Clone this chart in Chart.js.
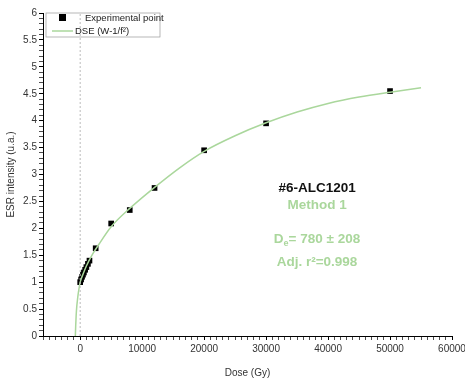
<!DOCTYPE html>
<html>
<head>
<meta charset="utf-8">
<script src="https://cdn.jsdelivr.net/npm/chart.js@4"></script>
<style>
  html, body { margin: 0; padding: 0; background: #fff; }
  #wrap { width: 465px; height: 383px; }
</style>
</head>
<body>
<div id="wrap"><canvas id="chart" width="465" height="383"></canvas></div>
<script>
// experimental points
const doses = [0, 150, 300, 450, 600, 800, 1000, 1250, 1500, 2500, 5000, 8000, 12000, 20000, 30000, 50000];
const intensities = [1.0, 1.05, 1.1, 1.14, 1.18, 1.23, 1.28, 1.34, 1.4, 1.63, 2.09, 2.34, 2.75, 3.45, 3.95, 4.55];

// fitted DSE curve
const fitDoses = [-780, -720, -650, -550, -450, -300, -150, 0, 500, 1000, 2000, 3000, 5000, 8000, 12000, 16000, 20000, 25000, 30000, 35000, 40000, 45000, 50000, 55000];
const fitValues = [0.0, 0.2, 0.38, 0.55, 0.66, 0.8, 0.91, 1.0, 1.16, 1.3, 1.52, 1.7, 2.03, 2.37, 2.76, 3.12, 3.43, 3.72, 3.96, 4.16, 4.32, 4.44, 4.53, 4.61];

const xLabels = [0, 10000, 20000, 30000, 40000, 50000, 60000];
const yLabels = [0, 0.5, 1, 1.5, 2, 2.5, 3, 3.5, 4, 4.5, 5, 5.5, 6];

const green = '#aad79c';
const font = 'Liberation Sans, Arial, sans-serif';

const pts = doses.map((d, i) => ({ x: d, y: intensities[i] }));
const fit = fitDoses.map((d, i) => ({ x: d, y: fitValues[i] }));

// legend + annotation text drawn on the canvas
const overlay = {
  id: 'overlay',
  afterDatasetsDraw(chart) {
    const ctx = chart.ctx;
    const a = chart.chartArea;
    ctx.save();
    // legend box
    const lx = a.left + 3, ly = a.top;
    ctx.strokeStyle = '#999';
    ctx.lineWidth = 0.7;
    ctx.strokeRect(lx, ly, 114, 24);
    ctx.fillStyle = '#000';
    ctx.fillRect(lx + 13, ly + 1, 7, 7);
    ctx.font = '9.5px ' + font;
    ctx.textBaseline = 'middle';
    ctx.fillStyle = '#222';
    ctx.fillText('Experimental point', lx + 39, ly + 5);
    ctx.strokeStyle = green;
    ctx.lineWidth = 1.5;
    ctx.beginPath();
    ctx.moveTo(lx + 6, ly + 18);
    ctx.lineTo(lx + 27, ly + 18);
    ctx.stroke();
    ctx.fillText('DSE (W-1/f\u00b2)', lx + 29, ly + 18);

    // annotation
    const cx = a.left + (a.right - a.left) * 0.67;
    const big = 'bold 13.5px ' + font, small = 'bold 9px ' + font;
    ctx.textAlign = 'center';
    ctx.font = big;
    ctx.fillStyle = '#111';
    ctx.fillText('#6-ALC1201', cx, a.top + 175);
    ctx.fillStyle = green;
    ctx.fillText('Method 1', cx, a.top + 192);
    // D_e line with subscript
    ctx.textAlign = 'left';
    const p1 = 'D', p2 = 'e', p3 = '= 780 \u00b1 208';
    ctx.font = big;
    const w1 = ctx.measureText(p1).width, w3 = ctx.measureText(p3).width;
    ctx.font = small;
    const w2 = ctx.measureText(p2).width;
    const x0 = cx - (w1 + w2 + w3) / 2;
    const yD = a.top + 226;
    ctx.font = big;
    ctx.fillText(p1, x0, yD);
    ctx.font = small;
    ctx.fillText(p2, x0 + w1, yD + 5);
    ctx.font = big;
    ctx.fillText(p3, x0 + w1 + w2, yD);
    ctx.textAlign = 'center';
    ctx.fillText('Adj. r\u00b2=0.998', cx, a.top + 249);
    ctx.restore();
  }
};

new Chart(document.getElementById('chart').getContext('2d'), {
  type: 'scatter',
  data: {
    datasets: [
      {
        label: 'zero',
        data: [{ x: 0, y: 0 }, { x: 0, y: 6 }],
        showLine: true,
        borderColor: '#bbb',
        borderWidth: 1,
        borderDash: [2, 2],
        pointRadius: 0
      },
      {
        label: 'DSE (W-1/f\u00b2)',
        data: fit,
        showLine: true,
        borderColor: green,
        borderWidth: 1.5,
        pointRadius: 0,
        cubicInterpolationMode: 'monotone'
      },
      {
        label: 'Experimental point',
        data: pts,
        pointStyle: 'rect',
        pointRadius: 4,
        backgroundColor: '#000',
        borderColor: '#000',
        borderWidth: 0
      }
    ]
  },
  options: {
    responsive: false,
    animation: false,
    layout: { padding: { top: 13, right: 13, left: 0, bottom: 0 } },
    plugins: {
      legend: { display: false },
      tooltip: { enabled: false }
    },
    scales: {
      x: {
        type: 'linear',
        min: -6000,
        max: 60000,
        afterFit: (s) => { s.height = 47; s.paddingRight = 0; },
        afterBuildTicks: (s) => {
          const t = [];
          for (let v = -6000; v <= 60000; v += 1000) t.push({ value: v });
          s.ticks = t;
        },
        border: { color: '#000', width: 1 },
        grid: {
          drawOnChartArea: false,
          tickLength: 4,
          tickColor: '#000',
          tickWidth: (c) => (c.tick && xLabels.includes(c.tick.value) ? 1 : 0.7)
        },
        ticks: {
          autoSkip: false,
          maxRotation: 0,
          color: '#333',
          font: { size: 10, family: font },
          padding: 3,
          callback: (v) => (xLabels.includes(v) ? String(v) : '')
        },
        title: {
          display: true,
          text: 'Dose (Gy)',
          color: '#333',
          font: { size: 10, family: font },
          padding: { top: 3 }
        }
      },
      y: {
        type: 'linear',
        min: 0,
        max: 6,
        afterFit: (s) => { s.width = 43; s.paddingTop = 0; },
        afterBuildTicks: (s) => {
          const t = [];
          for (let i = 0; i <= 60; i++) t.push({ value: i / 10 });
          s.ticks = t;
        },
        border: { color: '#000', width: 1 },
        grid: {
          drawOnChartArea: false,
          tickLength: 4,
          tickColor: '#000',
          tickWidth: (c) => (c.tick && yLabels.includes(c.tick.value) ? 1 : 0.7)
        },
        ticks: {
          autoSkip: false,
          color: '#333',
          font: { size: 10, family: font },
          padding: 2,
          callback: (v) => (yLabels.includes(v) ? String(v) : '')
        },
        title: {
          display: true,
          text: 'ESR intensity (u.a.)',
          color: '#333',
          font: { size: 10, family: font },
          padding: { top: 5, bottom: 0 }
        }
      }
    }
  },
  plugins: [overlay]
});
</script>
</body>
</html>
